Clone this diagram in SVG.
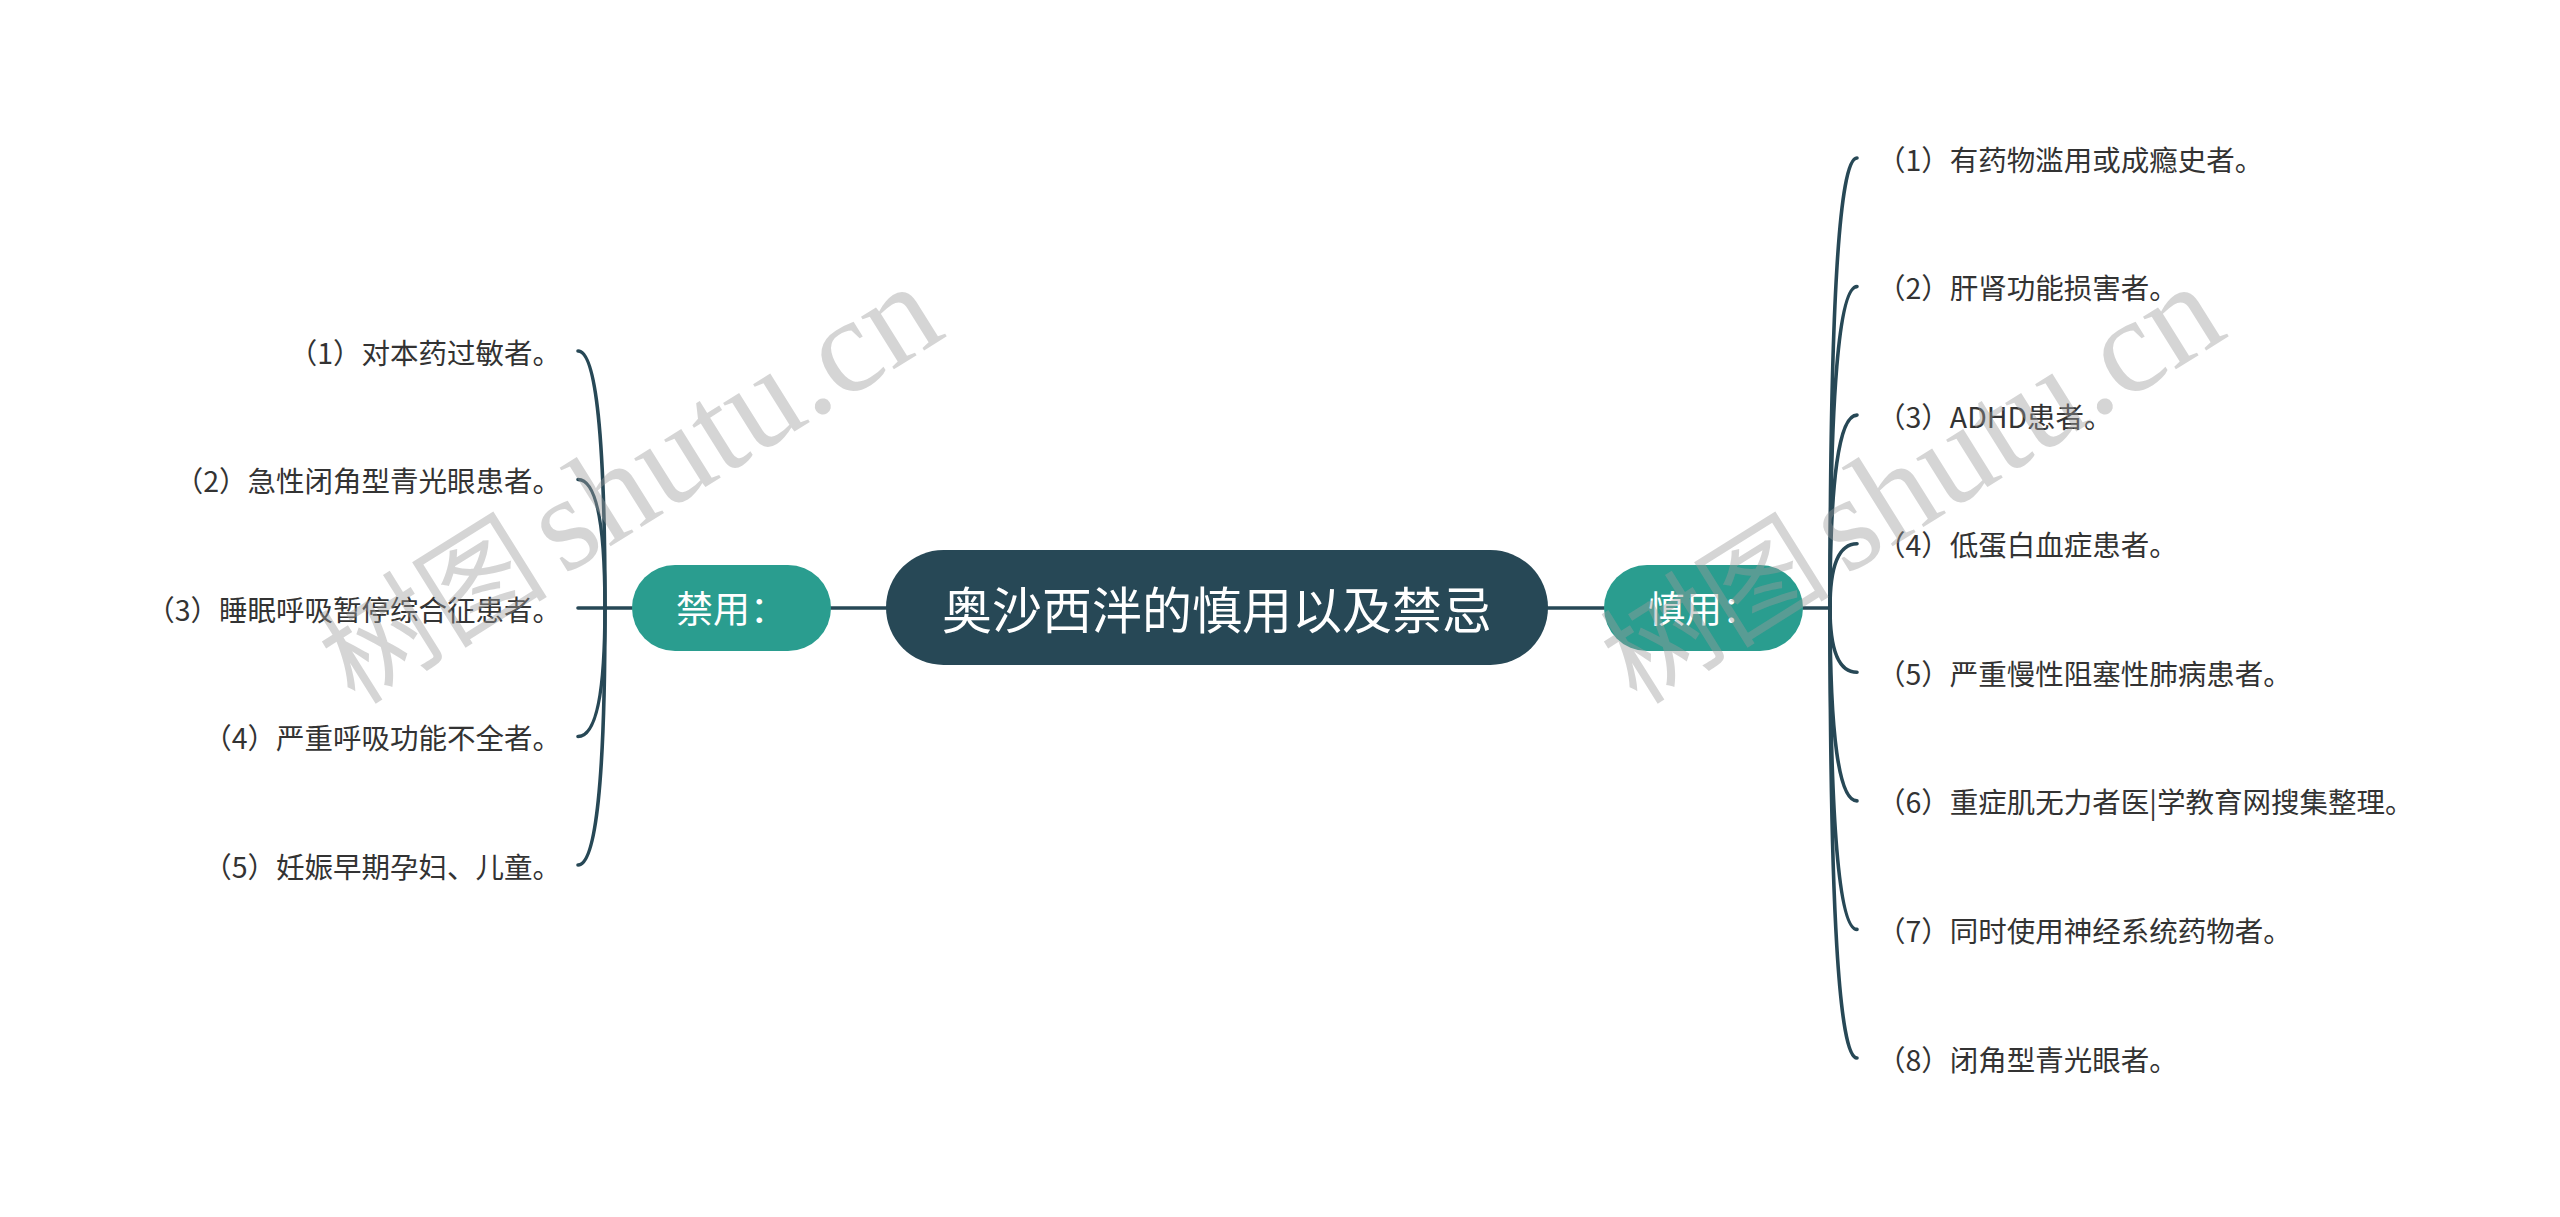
<svg xmlns="http://www.w3.org/2000/svg" width="2560" height="1217" viewBox="0 0 2560 1217">
<style>
.root{fill:#274856}
.sub{fill:#2a9d8f}
.ct{font-family:"Noto Sans CJK SC","Noto Sans",sans-serif;fill:#ffffff;text-anchor:middle;dominant-baseline:central}
.lt{font-family:"Noto Sans CJK SC","Noto Sans",sans-serif;font-size:28.5px;fill:#333333;dominant-baseline:central}
.l{text-anchor:end}
.c{fill:none;stroke:#274856;stroke-width:3.6;stroke-linecap:round}
.wm{fill:#9a9a9a;fill-opacity:0.42}
</style>
<rect width="2560" height="1217" fill="#ffffff"/>
<g id="connectors">
<path class="c" d="M831 608H886M1548 608H1604"/>
<path class="c" d="M605 608H632M605 608H578"/>
<path class="c" d="M605 608Q605 351 578 351"/>
<path class="c" d="M605 608Q605 479.5 578 479.5"/>
<path class="c" d="M605 608Q605 736.5 578 736.5"/>
<path class="c" d="M605 608Q605 865 578 865"/>
<path class="c" d="M1803 608H1830"/>
<path class="c" d="M1830 608Q1830 158 1857 158"/>
<path class="c" d="M1830 608Q1830 286.6 1857 286.6"/>
<path class="c" d="M1830 608Q1830 415.1 1857 415.1"/>
<path class="c" d="M1830 608Q1830 543.7 1857 543.7"/>
<path class="c" d="M1830 608Q1830 672.3 1857 672.3"/>
<path class="c" d="M1830 608Q1830 800.9 1857 800.9"/>
<path class="c" d="M1830 608Q1830 929.4 1857 929.4"/>
<path class="c" d="M1830 608Q1830 1058 1857 1058"/>
</g>
<g id="root">
<rect class="root" x="886" y="550" width="662" height="115" rx="57.5"/>
<text class="ct" x="1217" y="607" font-size="50">奥沙西泮的慎用以及禁忌</text>
</g>
<g id="jinyong">
<rect class="sub" x="632" y="565" width="199" height="86" rx="43"/>
<text class="ct" x="731.5" y="607" font-size="37">禁用：</text>
</g>
<g id="shenyong">
<rect class="sub" x="1604" y="565" width="199" height="86" rx="43"/>
<text class="ct" x="1703.5" y="607" font-size="37">慎用：</text>
</g>
<g id="left-items">
<g id="l1"><text class="lt l" x="561" y="351">（1）对本药过敏者。</text></g>
<g id="l2"><text class="lt l" x="561" y="479.5">（2）急性闭角型青光眼患者。</text></g>
<g id="l3"><text class="lt l" x="561" y="608">（3）睡眠呼吸暂停综合征患者。</text></g>
<g id="l4"><text class="lt l" x="561" y="736.5">（4）严重呼吸功能不全者。</text></g>
<g id="l5"><text class="lt l" x="561" y="865">（5）妊娠早期孕妇、儿童。</text></g>
</g>
<g id="right-items">
<g id="r1"><text class="lt" x="1877" y="158">（1）有药物滥用或成瘾史者。</text></g>
<g id="r2"><text class="lt" x="1877" y="286.6">（2）肝肾功能损害者。</text></g>
<g id="r3"><text class="lt" x="1877" y="415.1">（3）ADHD患者。</text></g>
<g id="r4"><text class="lt" x="1877" y="543.7">（4）低蛋白血症患者。</text></g>
<g id="r5"><text class="lt" x="1877" y="672.3">（5）严重慢性阻塞性肺病患者。</text></g>
<g id="r6"><text class="lt" x="1877" y="800.9">（6）重症肌无力者医|学教育网搜集整理。</text></g>
<g id="r7"><text class="lt" x="1877" y="929.4">（7）同时使用神经系统药物者。</text></g>
<g id="r8"><text class="lt" x="1877" y="1058">（8）闭角型青光眼者。</text></g>
</g>
<g id="watermarks" class="wm">
<text transform="rotate(-32 355 706)" x="355" y="706"><tspan font-family="Noto Sans CJK SC,sans-serif" font-size="115">树图</tspan><tspan font-family="Liberation Serif,serif" font-size="135" dx="16">shutu.cn</tspan></text>
<text transform="rotate(-32 1637 706)" x="1637" y="706"><tspan font-family="Noto Sans CJK SC,sans-serif" font-size="115">树图</tspan><tspan font-family="Liberation Serif,serif" font-size="135" dx="16">shutu.cn</tspan></text>
</g>
</svg>
